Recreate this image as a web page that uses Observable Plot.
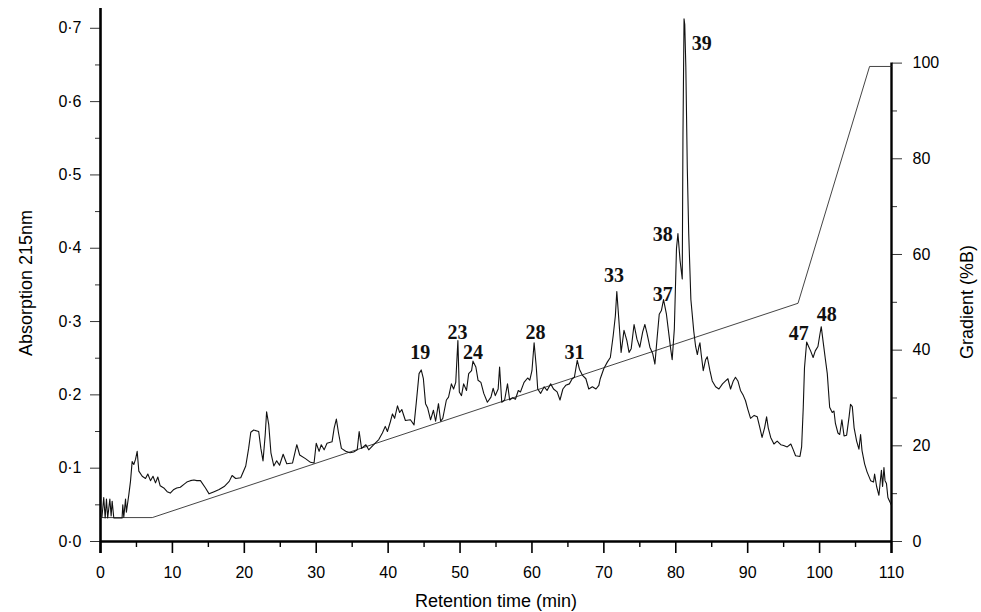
<!DOCTYPE html>
<html>
<head>
<meta charset="utf-8">
<script src="https://cdn.jsdelivr.net/npm/d3@7"></script>
<script src="https://cdn.jsdelivr.net/npm/@observablehq/plot@0.6"></script>
<style>
  body { margin: 0; background: #fff; }
  #chart svg { display: block; }
</style>
</head>
<body>
<div id="chart"></div>
<script>
// Absorbance trace (retention time in min, absorbance at 215 nm)
const traceTime = [
  0.2, 0.45, 0.65, 0.83, 1.0, 1.3, 1.48, 1.62, 1.85, 3.0, 3.1, 3.24, 3.48, 3.6, 3.94, 4.17, 4.4, 4.63, 4.87, 5.1,
  5.33, 5.8, 6.26, 6.58, 6.95, 7.3, 7.65, 7.97, 8.3, 8.8, 9.27, 9.7, 10.2, 10.6, 11.1, 11.6, 12.0, 12.5, 13.0, 13.4,
  13.9, 14.6, 15.1, 15.8, 16.5, 17.2, 17.9, 18.3, 18.8, 19.5, 20.2, 20.6, 20.9, 21.3, 22.0, 22.3, 22.6, 22.9, 23.1, 23.4,
  23.7, 24.1, 24.5, 24.9, 25.4, 25.9, 26.7, 27.3, 27.7, 28.5, 29.2, 29.7, 30.0, 30.4, 30.7, 31.1, 31.5, 32.2, 32.5, 32.8,
  33.1, 33.5, 34.1, 34.7, 35.2, 35.7, 35.97, 36.3, 36.9, 37.3, 38.0, 38.7, 39.2, 39.6, 39.9, 40.3, 40.6, 40.9, 41.3, 41.6,
  41.9, 42.4, 43.1, 43.6, 43.9, 44.3, 44.6, 44.9, 45.2, 45.5, 45.9, 46.3, 46.6, 47.0, 47.3, 47.6, 48.1, 48.4, 48.8, 49.1,
  49.4, 49.7, 49.9, 50.2, 50.5, 50.9, 51.2, 51.6, 51.8, 52.2, 52.5, 52.9, 53.3, 53.8, 54.3, 54.6, 54.9, 55.3, 55.5, 55.8,
  56.2, 56.6, 56.9, 57.3, 57.7, 58.1, 58.4, 58.9, 59.4, 59.7, 60.0, 60.3, 60.6, 60.8, 61.2, 61.7, 62.1, 62.6, 63.0, 63.5,
  63.9, 64.3, 64.7, 65.2, 65.6, 65.9, 66.3, 66.6, 67.0, 67.5, 67.9, 68.4, 68.9, 69.3, 69.5, 70.0, 70.5, 70.9, 71.3, 71.6,
  71.8, 72.1, 72.4, 72.8, 73.2, 73.5, 73.8, 74.2, 74.6, 75.0, 75.4, 75.7, 76.0, 76.4, 76.8, 77.1, 77.4, 77.7, 78.0, 78.3,
  78.7, 79.0, 79.3, 79.5, 79.8, 80.1, 80.3, 80.6, 80.9, 81.0, 81.15, 81.25, 81.4, 81.6, 81.8, 82.1, 82.5, 82.76, 83.0, 83.22,
  83.36, 83.54, 83.82, 84.15, 84.38, 84.75, 85.07, 85.54, 86.0, 86.5, 86.93, 87.25, 87.62, 88.0, 88.3, 88.64, 89.0, 89.4, 89.7, 90.0,
  90.4, 90.9, 91.33, 91.7, 92.0, 92.35, 92.63, 92.86, 93.2, 93.65, 94.1, 94.6, 95.0, 95.5, 96.0, 96.3, 96.66, 97.27, 97.5, 97.73,
  97.9, 98.2, 98.47, 98.75, 99.1, 99.4, 99.77, 100.05, 100.23, 100.5, 100.8, 101.07, 101.4, 101.76, 102.0, 102.2, 102.55, 102.8, 103.1, 103.4,
  103.76, 104.1, 104.3, 104.55, 104.8, 105.15, 105.47, 105.7, 105.9, 106.26, 106.6, 107.1, 107.5, 107.65, 107.93, 108.25, 108.5, 108.6, 108.76, 108.95,
  109.1, 109.3, 109.5, 109.78, 109.95
];
const traceAbs = [
  0.033, 0.060, 0.032, 0.058, 0.032, 0.058, 0.035, 0.055, 0.032, 0.032, 0.050, 0.033, 0.058, 0.040, 0.064, 0.082, 0.109, 0.105, 0.112, 0.123,
  0.096, 0.089, 0.086, 0.092, 0.083, 0.089, 0.080, 0.088, 0.076, 0.073, 0.068, 0.066, 0.071, 0.073, 0.074, 0.078, 0.081, 0.083, 0.084, 0.083,
  0.083, 0.073, 0.065, 0.068, 0.071, 0.075, 0.082, 0.090, 0.086, 0.087, 0.103, 0.127, 0.149, 0.152, 0.150, 0.127, 0.110, 0.145, 0.177, 0.159,
  0.121, 0.103, 0.110, 0.104, 0.119, 0.106, 0.107, 0.132, 0.118, 0.113, 0.108, 0.107, 0.134, 0.123, 0.132, 0.125, 0.134, 0.136, 0.155, 0.167,
  0.148, 0.127, 0.123, 0.121, 0.122, 0.125, 0.150, 0.127, 0.132, 0.125, 0.132, 0.139, 0.148, 0.157, 0.150, 0.163, 0.174, 0.168, 0.185, 0.176,
  0.180, 0.165, 0.166, 0.159, 0.188, 0.229, 0.234, 0.222, 0.188, 0.182, 0.166, 0.179, 0.164, 0.188, 0.164, 0.168, 0.193, 0.197, 0.215, 0.208,
  0.217, 0.274, 0.204, 0.199, 0.215, 0.206, 0.229, 0.233, 0.246, 0.238, 0.220, 0.217, 0.202, 0.190, 0.197, 0.209, 0.199, 0.208, 0.238, 0.190,
  0.193, 0.215, 0.193, 0.196, 0.194, 0.206, 0.204, 0.217, 0.223, 0.220, 0.233, 0.271, 0.238, 0.208, 0.202, 0.211, 0.206, 0.215, 0.208, 0.204,
  0.193, 0.208, 0.213, 0.215, 0.222, 0.224, 0.247, 0.235, 0.227, 0.222, 0.208, 0.211, 0.208, 0.213, 0.222, 0.236, 0.245, 0.251, 0.281, 0.308,
  0.341, 0.300, 0.258, 0.288, 0.274, 0.258, 0.263, 0.296, 0.276, 0.265, 0.286, 0.296, 0.284, 0.265, 0.256, 0.242, 0.277, 0.310, 0.315, 0.330,
  0.310, 0.286, 0.262, 0.248, 0.290, 0.400, 0.420, 0.383, 0.358, 0.555, 0.713, 0.705, 0.647, 0.510, 0.420, 0.330, 0.287, 0.266, 0.255, 0.266,
  0.271, 0.255, 0.233, 0.248, 0.252, 0.233, 0.219, 0.211, 0.208, 0.215, 0.219, 0.222, 0.208, 0.219, 0.224, 0.219, 0.206, 0.199, 0.192, 0.181,
  0.168, 0.172, 0.170, 0.155, 0.142, 0.155, 0.170, 0.155, 0.142, 0.133, 0.137, 0.132, 0.131, 0.129, 0.133, 0.126, 0.117, 0.116, 0.129, 0.183,
  0.237, 0.272, 0.266, 0.260, 0.251, 0.260, 0.266, 0.283, 0.293, 0.272, 0.249, 0.229, 0.183, 0.176, 0.178, 0.161, 0.148, 0.146, 0.166, 0.144,
  0.145, 0.170, 0.187, 0.184, 0.155, 0.137, 0.126, 0.146, 0.124, 0.106, 0.095, 0.083, 0.081, 0.092, 0.075, 0.063, 0.088, 0.097, 0.075, 0.101,
  0.083, 0.079, 0.060, 0.054, 0.050
];

// Gradient programme (%B)
const gradTime = [0, 7.2, 97.0, 106.95, 110];
const gradPct = [5, 5, 49.8, 99.3, 99.3];

// Peak labels
const peakLabels = ["19", "23", "24", "28", "31", "33", "37", "38", "39", "47", "48"];
const peakTime = [44.46, 49.65, 51.8, 60.5, 65.9, 71.4, 78.2, 78.2, 83.6, 97.1, 101.0];
const peakAbs = [0.258, 0.285, 0.258, 0.285, 0.258, 0.363, 0.337, 0.418, 0.679, 0.283, 0.310];

// Ticks
const xTicks = [0, 10, 20, 30, 40, 50, 60, 70, 80, 90, 100, 110];
const xMinorTicks = [5, 15, 25, 35, 45, 55, 65, 75, 85, 95, 105];
const absTicks = [0, 0.1, 0.2, 0.3, 0.4, 0.5, 0.6, 0.7];
const absMinorTicks = [0.05, 0.15, 0.25, 0.35, 0.45, 0.55, 0.65];
const gradTicks = [0, 20, 40, 60, 80, 100];
const gradMinorTicks = [10, 30, 50, 70, 90];

// Right axis: 100 %B corresponds to 0.6525 absorbance units on the left scale
const PCT_TO_ABS = 0.006525;

const trace = traceTime.map((t, i) => ({t, a: traceAbs[i]}));
const gradient = gradTime.map((t, i) => ({t, a: gradPct[i] * PCT_TO_ABS}));
const peaks = peakLabels.map((s, i) => ({s, t: peakTime[i], a: peakAbs[i]}));

const chart = Plot.plot({
  width: 981,
  height: 612,
  marginLeft: 100,
  marginRight: 90,
  marginTop: 8,
  marginBottom: 71,
  x: {domain: [0, 110]},
  y: {domain: [0, 0.727]},
  style: {fontFamily: "'Liberation Sans', Arial, sans-serif", fontSize: "16px", color: "#000", background: "#fff"},
  marks: [
    Plot.axisX(xTicks, {tickSize: 12, tickPadding: 13, label: null, strokeWidth: 1.6}),
    Plot.axisX(xMinorTicks, {tickSize: 6, tickFormat: () => "", label: null, strokeWidth: 1.4}),
    Plot.axisY(absTicks, {tickSize: 10, tickPadding: 9, tickFormat: d => d.toFixed(1).replace(".", "·"), label: null, strokeWidth: 0.8}),
    Plot.axisY(absMinorTicks, {tickSize: 5, tickFormat: () => "", label: null, strokeWidth: 0.8}),
    Plot.axisY(gradTicks.map(g => g * PCT_TO_ABS), {anchor: "right", tickSize: 10, tickPadding: 11, tickFormat: d => String(Math.round(d / PCT_TO_ABS)), label: null, strokeWidth: 0.8}),
    Plot.axisY(gradMinorTicks.map(g => g * PCT_TO_ABS), {anchor: "right", tickSize: 5, tickFormat: () => "", label: null, strokeWidth: 0.8}),
    Plot.ruleY([0], {stroke: "#000", strokeWidth: 2.5}),
    Plot.ruleX([0], {y1: -0.0165, y2: 0.727, stroke: "#000", strokeWidth: 2.6}),
    Plot.ruleX([110], {y1: -0.0165, y2: 100 * PCT_TO_ABS, stroke: "#000", strokeWidth: 2.4}),
    Plot.line(gradient, {x: "t", y: "a", stroke: "#222", strokeWidth: 0.85}),
    Plot.line(trace, {x: "t", y: "a", stroke: "#111", strokeWidth: 1.1, curve: "linear"}),
    Plot.text(peaks, {x: "t", y: "a", text: "s", fontFamily: "'Liberation Serif', 'Times New Roman', serif", fontWeight: "bold", fontSize: 20, fill: "#111"}),
    Plot.text(["Absorption 215nm"], {frameAnchor: "left", textAnchor: "middle", lineAnchor: "middle", dx: -74, dy: 8, rotate: -90, fontSize: 18}),
    Plot.text(["Gradient (%B)"], {frameAnchor: "right", textAnchor: "middle", lineAnchor: "middle", dx: 76, dy: 27, rotate: -90, fontSize: 18}),
    Plot.text(["Retention time (min)"], {frameAnchor: "bottom", textAnchor: "middle", lineAnchor: "middle", dy: 60, fontSize: 18})
  ]
});
document.getElementById("chart").appendChild(chart);
</script>
</body>
</html>
